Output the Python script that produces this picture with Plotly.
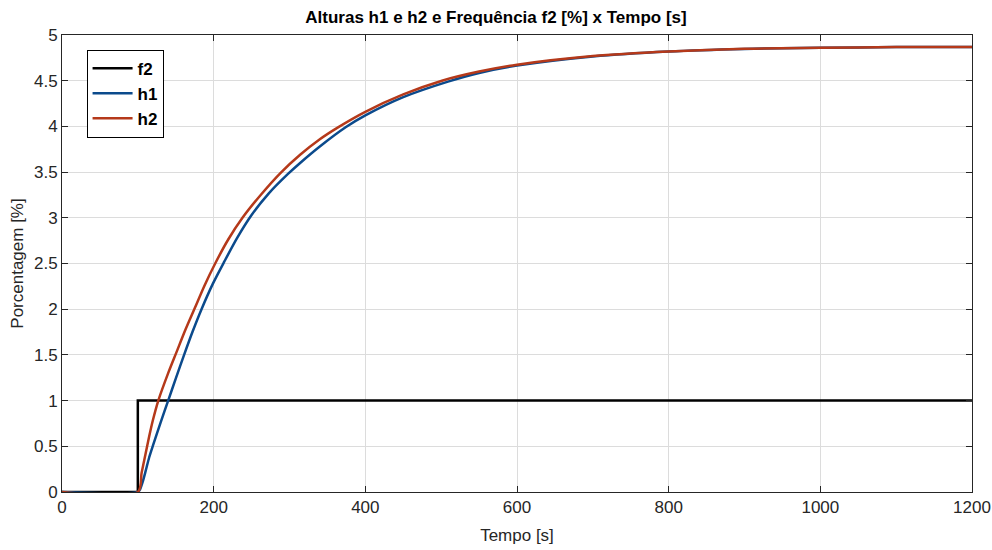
import plotly.graph_objects as go

# f2 step (frequency)
t_f2 = [0, 100, 100, 1200]
f2 = [0, 0, 1, 1]

# h1 (blue)
t_h1 = [0, 100, 103, 106, 110, 115, 120, 130, 140, 150, 161, 172, 184, 199, 214, 231, 250,
        273, 298, 314, 340, 374, 400, 450, 509, 550, 600, 700, 800, 900, 1000, 1100, 1200]
h1 = [0, 0, 0.03, 0.1, 0.22, 0.38, 0.51, 0.76, 1.0, 1.24, 1.5, 1.75, 2.0, 2.28, 2.52, 2.78, 3.03,
      3.27, 3.48, 3.6, 3.78, 3.99, 4.12, 4.32, 4.49, 4.585, 4.665, 4.765, 4.82, 4.848, 4.86, 4.868, 4.87]

# h2 (orange)
t_h2 = [0, 100, 105, 110, 115, 120, 127, 140, 151, 163, 175, 188, 202, 219, 238, 262, 288,
        314, 340, 364, 400, 450, 501, 550, 600, 700, 800, 900, 1000, 1100, 1200]
h2 = [0, 0, 0.21, 0.41, 0.61, 0.79, 1.0, 1.3, 1.53, 1.78, 2.01, 2.26, 2.5, 2.76, 3.0, 3.25, 3.49,
      3.69, 3.86, 3.99, 4.16, 4.35, 4.5, 4.6, 4.675, 4.77, 4.82, 4.85, 4.86, 4.868, 4.87]

x_ticks = [0, 200, 400, 600, 800, 1000, 1200]
y_ticks = [0, 0.5, 1, 1.5, 2, 2.5, 3, 3.5, 4, 4.5, 5]
y_tick_text = ["0", "0.5", "1", "1.5", "2", "2.5", "3", "3.5", "4", "4.5", "5"]

fig = go.Figure()
fig.add_trace(go.Scatter(x=t_f2, y=f2, mode="lines", name="f2",
                         line=dict(color="#000000", width=2.5)))
fig.add_trace(go.Scatter(x=t_h1, y=h1, mode="lines", name="h1",
                         line=dict(color="#0b4a8c", width=2.5, shape="spline", smoothing=0.8)))
fig.add_trace(go.Scatter(x=t_h2, y=h2, mode="lines", name="h2",
                         line=dict(color="#b5391a", width=2.5, shape="spline", smoothing=0.8)))

font_family = "Liberation Sans, Arial, sans-serif"
fig.update_layout(
    width=992, height=550,
    margin=dict(l=62, r=20, t=35, b=58, autoexpand=False),
    paper_bgcolor="white", plot_bgcolor="white",
    font=dict(family=font_family, size=17, color="#262626"),
    title=dict(text="<b>Alturas h1 e h2 e Frequência f2 [%] x Tempo [s]</b>",
               x=0.5, xanchor="center", y=0.969, yanchor="middle",
               font=dict(size=17, color="#000000")),
    showlegend=True,
    legend=dict(x=0.027, y=0.968, xanchor="left", yanchor="top",
                bgcolor="white", bordercolor="#000000", borderwidth=1,
                font=dict(size=17, color="#000000", weight="bold"),
                tracegroupgap=0, itemwidth=40),
)
fig.update_xaxes(range=[0, 1200], tickvals=x_ticks, ticktext=[str(v) for v in x_ticks],
                 showgrid=True, gridcolor="#dcdcdc", gridwidth=1, automargin=False,
                 showline=True, linecolor="#262626", linewidth=1, mirror="ticks",
                 ticks="inside", ticklen=6, tickcolor="#262626", zeroline=False,
                 title=dict(text="Tempo [s]", font=dict(size=17, color="#262626"), standoff=12))
fig.update_yaxes(range=[0, 5], tickvals=y_ticks, ticktext=y_tick_text,
                 showgrid=True, gridcolor="#dcdcdc", gridwidth=1, automargin=False,
                 showline=True, linecolor="#262626", linewidth=1, mirror="ticks",
                 ticks="inside", ticklen=6, tickcolor="#262626", zeroline=False,
                 title=dict(text="Porcentagem [%]", font=dict(size=17, color="#262626"), standoff=6))

# remove the default 8px page margin so the figure fills the window exactly
fig.write_html("out.html", config={"displayModeBar": False},
               post_script="document.body.style.margin='0';document.body.style.overflow='hidden';")
